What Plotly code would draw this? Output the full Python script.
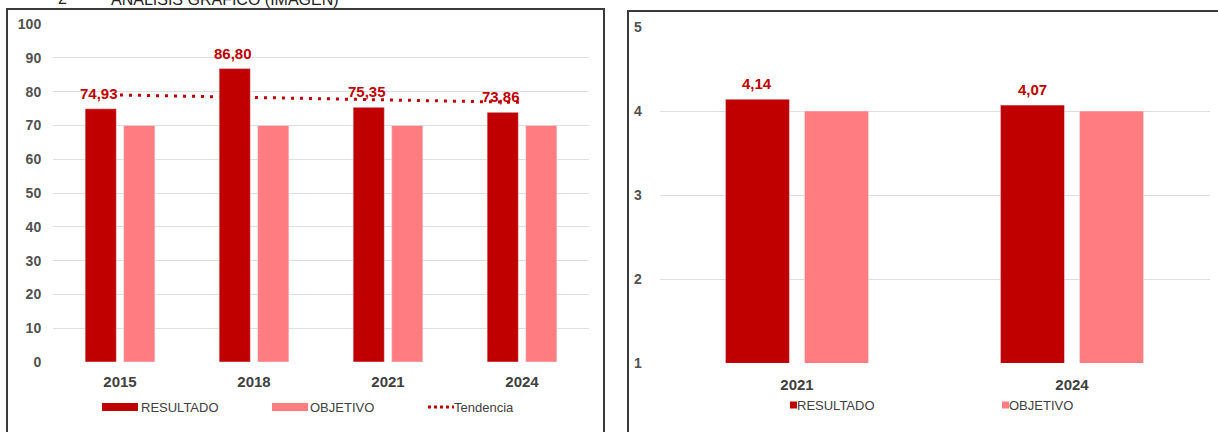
import plotly.graph_objects as go

# ---- data ----
years_a = ["2015", "2018", "2021", "2024"]
resultado_a = [74.93, 86.80, 75.35, 73.86]
objetivo_a = [70, 70, 70, 70]
tendencia_years = ["2015", "2024"]
tendencia_vals = [79.0, 76.8]

years_b = ["2021", "2024"]
resultado_b = [4.14, 4.07]
objetivo_b = [4, 4]

DARK = "#C00000"
LIGHT = "#FF7C80"
GRID = "#DEDEDE"
TXT = "#404040"
FONT = "Liberation Sans Narrow, Arial Narrow, Liberation Sans, sans-serif"

W, H = 1218, 432
BARGAP, GROUPGAP = 0.425, 0.19


def px(x):
    return x / W


def py(y):
    return (H - y) / H


def fmt(v):
    return f"{v:.2f}".replace(".", ",")


fig = go.Figure()

# trend line sits on the base axes so the bars (overlay axes) cover it
fig.add_trace(go.Scatter(
    x=tendencia_years, y=tendencia_vals, xaxis="x", yaxis="y",
    mode="lines", line=dict(color=DARK, width=3, dash="3px,6px"),
    showlegend=False, hoverinfo="skip"))

fig.add_trace(go.Bar(x=years_a, y=resultado_a, xaxis="x", yaxis="y3",
                     marker_color=DARK, name="RESULTADO", showlegend=False))
fig.add_trace(go.Bar(x=years_a, y=objetivo_a, xaxis="x", yaxis="y3",
                     marker_color=LIGHT, name="OBJETIVO", showlegend=False))

fig.add_trace(go.Bar(x=years_b, y=resultado_b, xaxis="x2", yaxis="y2",
                     marker_color=DARK, name="RESULTADO", showlegend=False))
fig.add_trace(go.Bar(x=years_b, y=objetivo_b, xaxis="x2", yaxis="y2",
                     marker_color=LIGHT, name="OBJETIVO", showlegend=False))

A_L, A_R = 53, 589
B_L, B_R = 659.5, 1209.5
dom_a = [px(A_L), px(A_R)]
dom_b = [px(B_L), px(B_R)]

tickfont_y = dict(family=FONT, size=14, color="#505050", weight="bold")
tickfont_x = dict(family=FONT, size=15, color=TXT, weight="bold")

fig.update_layout(
    width=W, height=H,
    margin=dict(l=0, r=0, t=0, b=0, pad=0, autoexpand=False),
    showlegend=False,
    paper_bgcolor="white", plot_bgcolor="rgba(0,0,0,0)",
    barmode="group", bargap=BARGAP, bargroupgap=GROUPGAP,
    font=dict(family=FONT, color=TXT),
    xaxis=dict(domain=dom_a, type="category", categoryorder="array",
               categoryarray=years_a, showgrid=False,
               zeroline=False, showline=False, ticks="outside",
               ticklen=6, tickcolor="rgba(0,0,0,0)", tickfont=tickfont_x,
               range=[-0.5, len(years_a) - 0.5], anchor="y"),
    yaxis=dict(domain=[py(362), py(24)], range=[0, 100], dtick=10,
               showgrid=True, gridcolor=GRID, gridwidth=1, zeroline=False,
               showline=False, ticks="outside", ticklen=8,
               tickcolor="rgba(0,0,0,0)", tickfont=tickfont_y, anchor="x"),
    yaxis3=dict(overlaying="y", range=[0, 100], visible=False,
                showgrid=False, zeroline=False, anchor="x"),
    xaxis2=dict(domain=dom_b, type="category", categoryorder="array",
                categoryarray=years_b, showgrid=False,
                zeroline=False, showline=False, ticks="outside",
                ticklen=8, tickcolor="rgba(0,0,0,0)", tickfont=tickfont_x,
                range=[-0.5, len(years_b) - 0.5], anchor="y2"),
    yaxis2=dict(domain=[py(363), py(27)], range=[1, 5], dtick=1,
                showgrid=True, gridcolor=GRID, gridwidth=1, zeroline=False,
                showline=False, ticks="outside", ticklen=14,
                tickcolor="rgba(0,0,0,0)", tickfont=tickfont_y, anchor="x2"),
)

# value labels above the RESULTADO bars (category axes take the index)
span_a = (A_R - A_L) / len(years_a)
span_b = (B_R - B_L) / len(years_b)
shift_a = -span_a * (1 - BARGAP) / 4
shift_b = -span_b * (1 - BARGAP) / 4
lab_font = dict(family=FONT, size=15, color=DARK, weight="bold")
for i, v in enumerate(resultado_a):
    fig.add_annotation(x=i, y=v, xref="x", yref="y", text=fmt(v),
                       showarrow=False, yanchor="bottom", yshift=5,
                       xshift=shift_a - 2, font=lab_font)
for i, v in enumerate(resultado_b):
    fig.add_annotation(x=i, y=v, xref="x2", yref="y2", text=fmt(v),
                       showarrow=False, yanchor="bottom", yshift=5,
                       xshift=shift_b, font=lab_font)

# panel frames
frame = dict(color="#3A3A3A", width=2)
fig.add_shape(type="rect", xref="paper", yref="paper",
              x0=px(7), x1=px(604), y0=-0.05, y1=py(9), line=frame,
              layer="below")
fig.add_shape(type="rect", xref="paper", yref="paper",
              x0=px(628), x1=1.05, y0=-0.05, y1=py(11), line=frame,
              layer="below")

# header line (cut at the top edge)
head_font = dict(family="Liberation Sans, Arial, sans-serif", size=16,
                 color="#222222")
fig.add_annotation(x=px(56), y=py(-1), xref="paper", yref="paper",
                   text="2", showarrow=False, xanchor="left",
                   yanchor="middle", font=head_font)
fig.add_annotation(x=px(109), y=py(-1), xref="paper", yref="paper",
                   text="ANÁLISIS GRÁFICO (IMAGEN)", showarrow=False,
                   xanchor="left", yanchor="middle", font=head_font)

# legend, left panel
leg_font = dict(family=FONT, size=13, color=TXT)
ly = 407
fig.add_shape(type="rect", xref="paper", yref="paper",
              x0=px(102), x1=px(138), y0=py(ly + 4), y1=py(ly - 4),
              fillcolor=DARK, line_width=0)
fig.add_annotation(x=px(139), y=py(ly), xref="paper", yref="paper",
                   text="RESULTADO", showarrow=False, xanchor="left",
                   yanchor="middle", font=leg_font)
fig.add_shape(type="rect", xref="paper", yref="paper",
              x0=px(272), x1=px(308), y0=py(ly + 4), y1=py(ly - 4),
              fillcolor=LIGHT, line_width=0)
fig.add_annotation(x=px(308), y=py(ly), xref="paper", yref="paper",
                   text="OBJETIVO", showarrow=False, xanchor="left",
                   yanchor="middle", font=leg_font)
fig.add_shape(type="line", xref="paper", yref="paper",
              x0=px(428), x1=px(454), y0=py(ly), y1=py(ly),
              line=dict(color=DARK, width=3, dash="3px,3px"))
fig.add_annotation(x=px(452), y=py(ly), xref="paper", yref="paper",
                   text="Tendencia", showarrow=False, xanchor="left",
                   yanchor="middle", font=leg_font)

# legend, right panel
ry = 405
fig.add_shape(type="rect", xref="paper", yref="paper",
              x0=px(790), x1=px(797), y0=py(ry + 3.5), y1=py(ry - 3.5),
              fillcolor=DARK, line_width=0)
fig.add_annotation(x=px(795), y=py(ry), xref="paper", yref="paper",
                   text="RESULTADO", showarrow=False, xanchor="left",
                   yanchor="middle", font=leg_font)
fig.add_shape(type="rect", xref="paper", yref="paper",
              x0=px(1002), x1=px(1009), y0=py(ry + 3.5), y1=py(ry - 3.5),
              fillcolor=LIGHT, line_width=0)
fig.add_annotation(x=px(1007), y=py(ry), xref="paper", yref="paper",
                   text="OBJETIVO", showarrow=False, xanchor="left",
                   yanchor="middle", font=leg_font)

fig.write_html("out.html")
